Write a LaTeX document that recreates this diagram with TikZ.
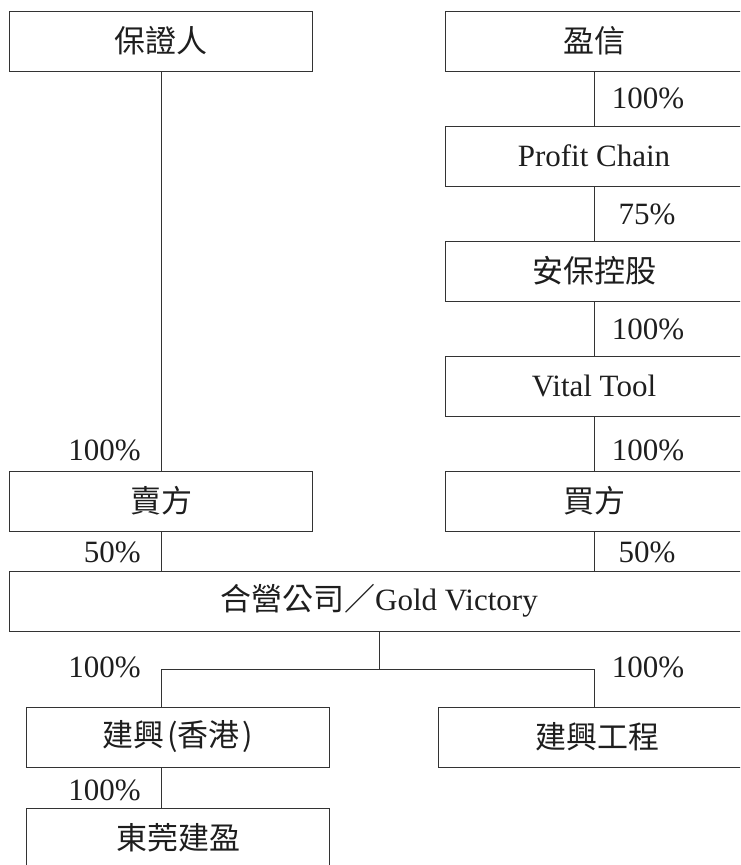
\documentclass[tikz,border=0pt]{standalone}
\usepackage{fontspec}
\setmainfont{Liberation Serif}
\newfontfamily\cjk{Noto Sans CJK TC}
\definecolor{linec}{HTML}{333333}
\definecolor{textc}{HTML}{1E1E1E}
\begin{document}
\begin{tikzpicture}[x=1pt,y=-1pt,
  box/.style={draw=linec, line width=0.9pt, rectangle, inner sep=0pt, minimum height=60pt, text=textc, font=\fontsize{31}{34}\selectfont},
  pct/.style={inner sep=0pt, text=textc, font=\fontsize{31}{34}\selectfont},
  conn/.style={draw=linec, line width=0.9pt}]
\useasboundingbox (0,0) rectangle (740,865);
\clip (0,0) rectangle (740,865);
% left column
\node[box, minimum width=303pt] (guar) at (161,41) {\cjk 保證人};
\node[box, minimum width=303pt] (seller) at (161,501) {\cjk 賣方};
% right column
\node[box, minimum width=298pt] (yx) at (594,41) {\cjk 盈信};
\node[box, minimum width=298pt] (pc) at (594,156) {Profit Chain};
\node[box, minimum width=298pt] (ab) at (594,271) {\cjk 安保控股};
\node[box, minimum width=298pt] (vt) at (594,386) {Vital Tool};
\node[box, minimum width=298pt] (buyer) at (594,501) {\cjk 買方};
% JV
\node[box, minimum width=739pt] (jv) at (379,601) {{\cjk 合營公司／}Gold Victory};
% subsidiaries
\node[box, minimum width=303pt] (hk) at (178,737) {\cjk 建興\kern3pt(香港\kern3pt)};
\node[box, minimum width=318pt] (eng) at (597,737) {\cjk 建興工程};
\node[box, minimum width=303pt] (dg) at (178,838) {\cjk 東莞建盈};
% connectors
\coordinate (barL) at (161,669);
\coordinate (barR) at (594,669);
\draw[conn] (guar.south) -- (seller.north);
\draw[conn] (yx.south) -- (pc.north);
\draw[conn] (pc.south) -- (ab.north);
\draw[conn] (ab.south) -- (vt.north);
\draw[conn] (vt.south) -- (buyer.north);
\draw[conn] (seller.south) -- (seller.south |- jv.north);
\draw[conn] (buyer.south) -- (buyer.south |- jv.north);
\draw[conn] (jv.south) -- (jv.south |- barL);
\draw[conn] (hk.north -| barL) -- (barL) -- (barR) -- (eng.north -| barR);
\draw[conn] (hk.south -| barL) -- (dg.north -| barL);
% percentage labels
\node[pct, anchor=base] (p1) at (648,108) {100\%};
\node[pct, anchor=base] (p2) at (647,224) {75\%};
\node[pct, anchor=base] (p3) at (648,339) {100\%};
\node[pct, anchor=base] (p4) at (648,460) {100\%};
\node[pct, anchor=base] (p5) at (647,562) {50\%};
\node[pct, anchor=base east] (p6) at (141,460) {100\%};
\node[pct, anchor=base east] (p7) at (141,562) {50\%};
\node[pct, anchor=base east] (p8) at (141,677) {100\%};
\node[pct, anchor=base] (p9) at (648,677) {100\%};
\node[pct, anchor=base east] (p10) at (141,800) {100\%};
\end{tikzpicture}
\end{document}
